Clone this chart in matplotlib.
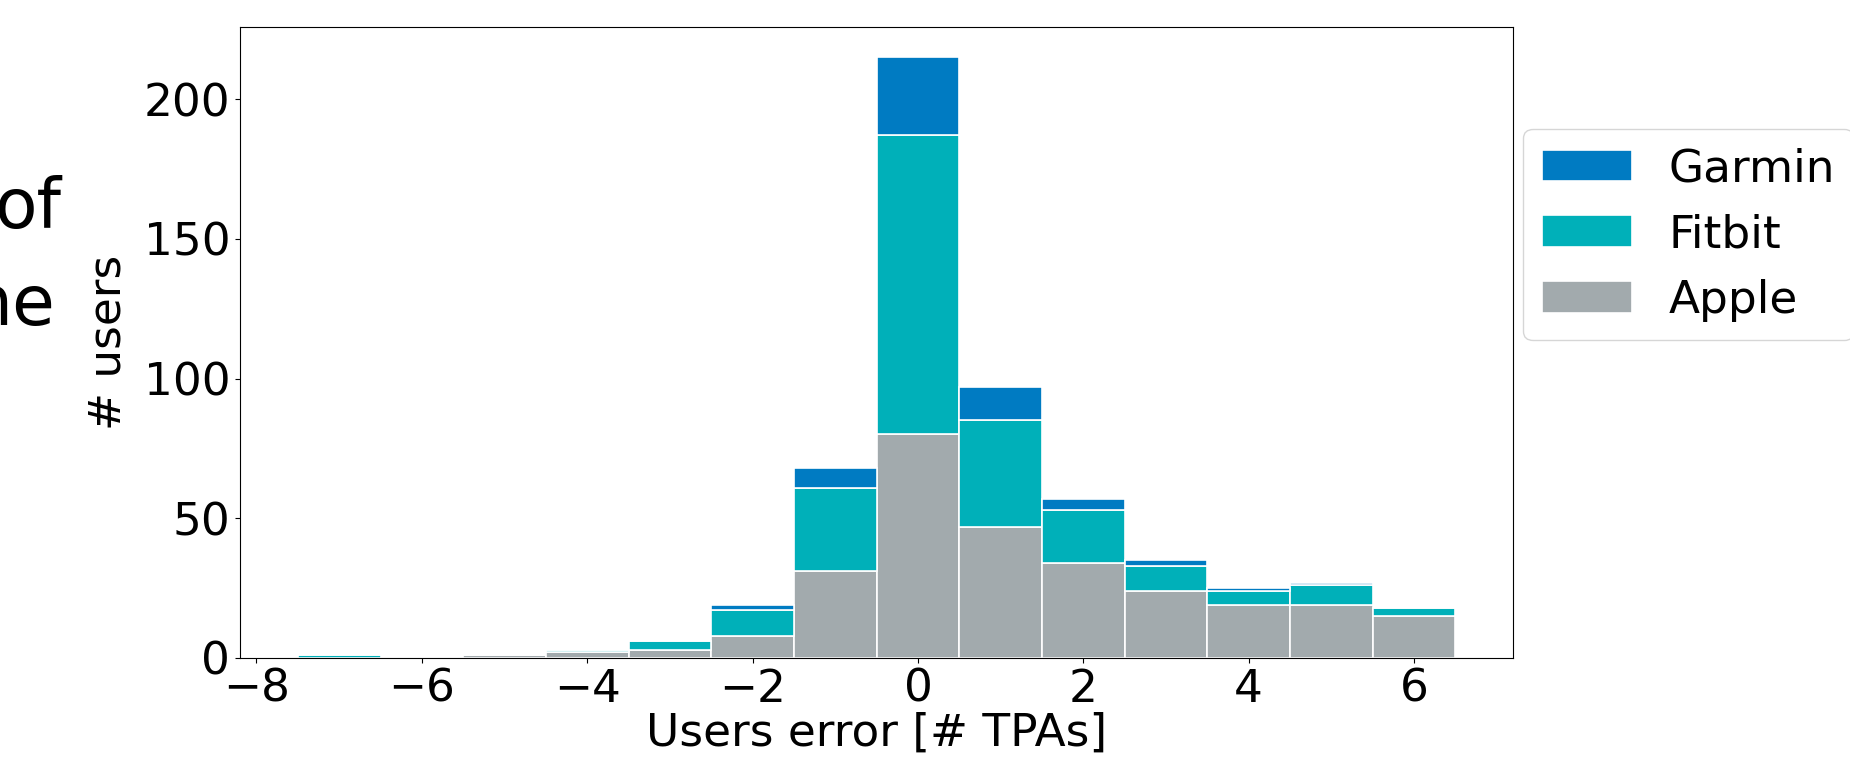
import numpy as np
from matplotlib import pyplot as plt

# bin centres of the error histogram (width 1)
errors = [-7, -6, -5, -4, -3, -2, -1, 0, 1, 2, 3, 4, 5, 6]

# per-bin counts for each vendor (stacked Apple -> Fitbit -> Garmin)
apple = [0, 0, 1, 2, 3, 8, 31, 80, 47, 34, 24, 19, 19, 15]
fitbit = [1, 0, 0, 1, 3, 9, 30, 107, 38, 19, 9, 5, 7, 3]
garmin = [0, 0, 0, 0, 0, 2, 7, 28, 12, 4, 2, 1, 1, 0]

series = [('Apple', apple, '#a2aaad'),
          ('Fitbit', fitbit, '#00b0b9'),
          ('Garmin', garmin, '#007bc2')]

plt.rcParams['font.size'] = 32.7

fig = plt.figure(figsize=(18.5, 7.75), dpi=100)
ax = fig.add_axes([0.1297, 0.151, 0.6883, 0.814])

bottom = np.zeros(len(errors))
handles = []
for name, counts, color in series:
    b = ax.bar(errors, counts, width=1.0, bottom=bottom, color=color,
               edgecolor='white', linewidth=1.2, label=name)
    handles.append(b)
    bottom += np.array(counts)

ax.set_xticks([-8, -6, -4, -2, 0, 2, 4, 6])
ax.set_yticks([0, 50, 100, 150, 200])
ax.set_xlabel('Users error [# TPAs]', labelpad=1)
ax.set_ylabel('# users', labelpad=10)

ax.legend(handles[::-1], [s[0] for s in series][::-1],
          loc='upper left', bbox_to_anchor=(1.008, 0.838), borderaxespad=0)

# clipped text from a neighbouring panel
fig.text(61 / 1850, 1 - 228 / 775, 'of', fontsize=50, ha='right', va='baseline')
fig.text(56 / 1850, 1 - 325 / 775, 'ne', fontsize=50, ha='right', va='baseline')

fig.savefig('out.png', dpi=100)
